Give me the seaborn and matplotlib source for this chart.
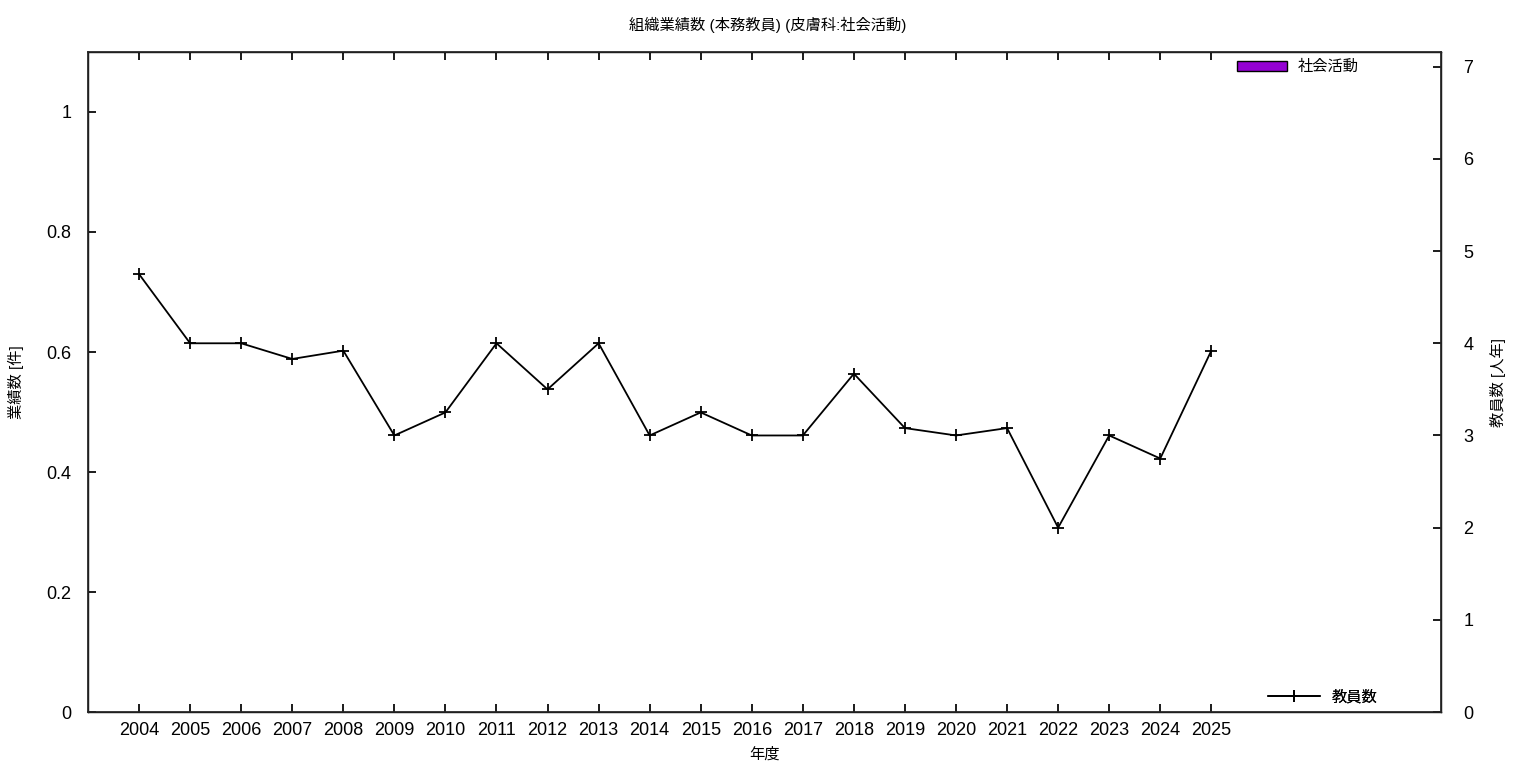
import numpy as np
import pandas as pd
import matplotlib
matplotlib.use("Agg")
import matplotlib.pyplot as plt
import seaborn as sns
from matplotlib.patches import Patch

# data
years = ["2004", "2005", "2006", "2007", "2008", "2009", "2010", "2011", "2012", "2013", "2014",
         "2015", "2016", "2017", "2018", "2019", "2020", "2021", "2022", "2023", "2024", "2025"]
activity_counts = [0] * 22  # 社会活動 (no bars visible)
staff_counts = [4.75, 4.0, 4.0, 3.83, 3.92, 3.0, 3.25, 4.0, 3.5, 4.0, 3.0,
                3.25, 3.0, 3.0, 3.67, 3.08, 3.0, 3.08, 2.0, 3.0, 2.75, 3.92]

sns.set_theme(style="white", rc={"text.color": "black", "axes.labelcolor": "black",
                                 "xtick.color": "black", "ytick.color": "black"})
plt.rcParams['font.family'] = ['Liberation Sans', 'Noto Sans CJK JP']

df = pd.DataFrame({"year": years, "count": activity_counts, "staff": staff_counts})
df["pos"] = np.arange(len(df))

fig = plt.figure(figsize=(15.36, 7.68), dpi=100)
ax = fig.add_axes([0.0573, 0.0729, 0.8809, 0.8594])

sns.barplot(data=df, x="pos", y="count", color="#9400d3", linewidth=0, width=0.6, ax=ax)
ax.set_xlim(-1, 25.5)
ax.set_ylim(0, 1.1)
ax.set_xticks(df["pos"])
ax.set_xticklabels(years)
ax.set_yticks([0, 0.2, 0.4, 0.6, 0.8, 1])
ax.set_yticklabels(["0", "0.2", "0.4", "0.6", "0.8", "1"])
ax.set_xlabel("年度", fontsize=11, labelpad=6)
ax.set_ylabel("業績数 [件]", fontsize=11, labelpad=16)
ax.tick_params(axis="x", direction="in", length=6, top=True, bottom=True, labelsize=13, pad=7)
ax.tick_params(axis="y", direction="in", length=6, left=True, right=False, labelsize=13, pad=12)
for s in ax.spines.values():
    s.set_color("black")
    s.set_linewidth(1)

ax2 = ax.twinx()
sns.lineplot(data=df, x="pos", y="staff", color="black", marker="+", markersize=8,
             markeredgecolor="black", markeredgewidth=1.3, linewidth=1.3, ax=ax2, label="教員数")
ax2.set_ylim(0, 7.16)
ax2.set_yticks(range(8))
ax2.set_ylabel("教員数 [人年]", fontsize=11, labelpad=12)
ax2.tick_params(axis="y", direction="in", length=6, right=True, labelsize=13, pad=16)
ax2.set_xlim(-1, 25.5)

title = "組織業績数 (本務教員) (皮膚科:社会活動)"
fig.text(0.5, 1 - 25 / 768, title, ha="center", va="center", fontsize=11)

leg2 = ax2.legend(loc="center left", bbox_to_anchor=(1268 / 1536, 1 - 697 / 768),
                  bbox_transform=fig.transFigure, frameon=False, fontsize=11,
                  handlelength=3.4, handletextpad=0.8, borderpad=0, borderaxespad=0)
ax2.add_artist(leg2)
h1 = [Patch(facecolor="#9400d3", edgecolor="black", linewidth=1)]
ax2.legend(h1, ["社会活動"], loc="center left", bbox_to_anchor=(1237 / 1536, 1 - 67 / 768),
           bbox_transform=fig.transFigure, frameon=False, fontsize=11,
           handlelength=3.3, handleheight=0.6, handletextpad=0.7, borderpad=0, borderaxespad=0)
ax2.add_artist(leg2)

fig.savefig("out.png", dpi=100)
